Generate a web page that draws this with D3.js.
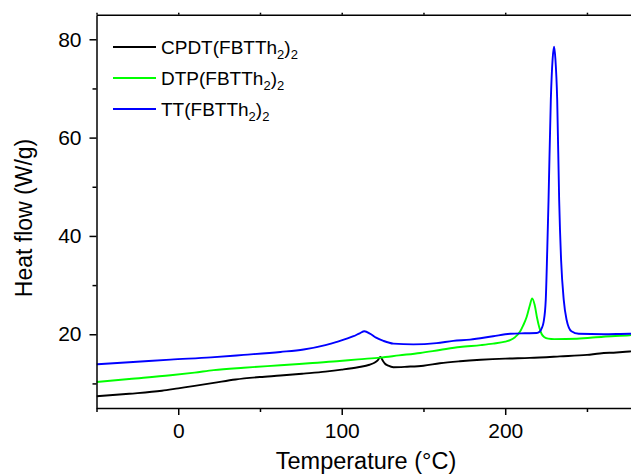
<!DOCTYPE html>
<html>
<head>
<meta charset="utf-8">
<script src="https://cdn.jsdelivr.net/npm/d3@7"></script>
<style>
  html, body { margin: 0; padding: 0; background: #fff; }
  svg { display: block; font-family: "Liberation Sans", Arial, sans-serif; }
</style>
</head>
<body>
<svg id="chart" width="631" height="475"></svg>
<script>
// ---- data ----
const cpdtT = [-50, -30, -10, 0, 10, 21.7, 35, 50, 62.5, 76.7, 90, 100, 110, 117, 120, 122, 123.7, 125, 126.5, 128.5, 131.6, 140, 150, 160, 172.3, 185, 200, 215, 233.4, 250, 257.8, 268, 276, 280];
const cpdtV = [7.4, 7.9, 8.5, 9.0, 9.5, 10.1, 10.8, 11.3, 11.6, 12.0, 12.4, 12.8, 13.3, 13.8, 14.2, 14.7, 15.4, 14.7, 14.0, 13.6, 13.3, 13.4, 13.6, 14.1, 14.5, 14.8, 15.05, 15.2, 15.5, 15.8, 16.1, 16.3, 16.5, 16.6];

const dtpT = [-50, -30, -4.7, 10, 21.7, 40, 62.5, 80, 97, 110, 123.5, 135, 148, 160, 172.3, 185, 192.6, 200, 203, 206, 209, 211, 213.1, 215, 216.5, 218, 219.5, 221, 222.2, 224, 226.3, 230, 243.9, 260, 276, 280];
const dtpV = [10.3, 10.9, 11.65, 12.2, 12.7, 13.2, 13.7, 14.1, 14.5, 14.9, 15.25, 15.7, 16.2, 16.8, 17.4, 17.8, 18.1, 18.5, 18.8, 19.4, 20.5, 21.8, 23.5, 25.8, 27.3, 26.0, 23.3, 21.2, 20.1, 19.4, 19.1, 19.0, 19.1, 19.5, 19.8, 19.9];

const ttT = [-50, -30, -4.7, 20, 40, 62.5, 76.7, 90, 97, 107.2, 111, 113.9, 117.4, 121, 125.5, 131.6, 143.8, 158, 168.2, 178.5, 192.6, 203, 212, 219.3, 221, 222.3, 223.5, 224.8, 225.7, 226.5, 227.9, 229.0, 229.9, 230.7, 231.8, 233.0, 234.2, 235.8, 237.5, 240.5, 245, 260, 276, 280];
const ttV = [13.9, 14.3, 14.85, 15.3, 15.8, 16.4, 16.9, 17.8, 18.45, 19.6, 20.2, 20.6, 20.1, 19.3, 18.65, 18.1, 17.95, 18.2, 18.65, 18.9, 19.6, 20.1, 20.2, 20.25, 20.5, 21.2, 22.5, 27, 37, 47.3, 67.7, 76, 78.5, 76, 67.7, 47.3, 35, 27, 23, 20.6, 20.1, 20.0, 20.1, 20.1];

const seriesNames = ["CPDT", "DTP", "TT"];
const seriesColors = ["#000000", "#00ff00", "#0000ff"];
const xMajorTicks = [0, 100, 200];
const xMinorTicks = [-50, 50, 150, 250];
const yMajorTicks = [20, 40, 60, 80];
const yMinorTicks = [10, 30, 50, 70];
const xTitle = "Temperature (°C)";
const yTitle = "Heat flow (W/g)";

// ---- layout ----
const svg = d3.select("#chart");
const L = 96.5, R = 636, T = 14.7, B = 408;
const x = d3.scaleLinear().domain([-50, 280]).range([L, R]);
const y = d3.scaleLinear().domain([5, 85]).range([B, T]);

const fontTick = 21;

// curves
const series = [
  {T: cpdtT, V: cpdtV},
  {T: dtpT, V: dtpV},
  {T: ttT, V: ttV}
];
const line = d3.line().x(d => x(d[0])).y(d => y(d[1])).curve(d3.curveMonotoneX);
svg.append("defs").append("clipPath").attr("id", "clip")
  .append("rect").attr("x", L).attr("y", T).attr("width", R - L).attr("height", B - T);
const g = svg.append("g").attr("clip-path", "url(#clip)");
series.forEach((s, i) => {
  g.append("path")
    .datum(s.T.map((t, k) => [t, s.V[k]]))
    .attr("d", line)
    .attr("fill", "none")
    .attr("stroke", seriesColors[i])
    .attr("stroke-width", 1.9)
    .attr("stroke-linejoin", "round");
});

// axes
function styleAxis(sel) {
  sel.select(".domain").attr("stroke", "#000").attr("stroke-width", 1.5);
  sel.selectAll(".tick line").attr("stroke", "#000").attr("stroke-width", 1.5);
  sel.selectAll("text").attr("font-size", fontTick).attr("fill", "#000")
    .attr("font-family", "'Liberation Sans', Arial, sans-serif");
}
const xAxis = svg.append("g").attr("transform", `translate(0,${B})`)
  .call(d3.axisBottom(x).tickValues(xMajorTicks).tickSize(7).tickPadding(8).tickFormat(d3.format("d")).tickSizeOuter(0));
styleAxis(xAxis);
const xMinor = svg.append("g").attr("transform", `translate(0,${B})`)
  .call(d3.axisBottom(x).tickValues(xMinorTicks).tickSize(4).tickFormat("").tickSizeOuter(0));
styleAxis(xMinor);
xMinor.select(".domain").remove();

const yAxis = svg.append("g").attr("transform", `translate(${L},0)`)
  .call(d3.axisLeft(y).tickValues(yMajorTicks).tickSize(7).tickPadding(8).tickFormat(d3.format("d")).tickSizeOuter(0));
styleAxis(yAxis);
const yMinor = svg.append("g").attr("transform", `translate(${L},0)`)
  .call(d3.axisLeft(y).tickValues(yMinorTicks).tickSize(4).tickFormat("").tickSizeOuter(0));
styleAxis(yMinor);
yMinor.select(".domain").remove();

// top axis (ticks only)
const xTop = svg.append("g").attr("transform", `translate(0,${T})`)
  .call(d3.axisTop(x).tickValues(xMajorTicks.concat(xMinorTicks)).tickSize(2).tickFormat("").tickSizeOuter(0));
styleAxis(xTop);
// right axis
svg.append("line").attr("x1", R).attr("x2", R).attr("y1", T).attr("y2", B)
  .attr("stroke", "#000").attr("stroke-width", 1.5);

// titles
svg.append("text").attr("x", 366).attr("y", 469).attr("text-anchor", "middle")
  .attr("font-size", 23.5).text(xTitle);
svg.append("text").attr("transform", "translate(24,218) rotate(-90)")
  .attr("text-anchor", "middle").attr("dy", "0.35em")
  .attr("font-size", 23).text(yTitle);

// legend
const legendY = [47, 78, 109];
seriesNames.forEach((name, i) => {
  svg.append("line").attr("x1", 113).attr("x2", 156)
    .attr("y1", legendY[i]).attr("y2", legendY[i])
    .attr("stroke", seriesColors[i]).attr("stroke-width", 1.9);
  const t = svg.append("text").attr("x", 161).attr("y", legendY[i] + 7).attr("font-size", 19);
  t.append("tspan").text(name + "(FBTTh");
  t.append("tspan").attr("font-size", 13).attr("dy", 4.5).text("2");
  t.append("tspan").attr("dy", -4.5).text(")");
  t.append("tspan").attr("font-size", 13).attr("dy", 4.5).text("2");
});
</script>
</body>
</html>
